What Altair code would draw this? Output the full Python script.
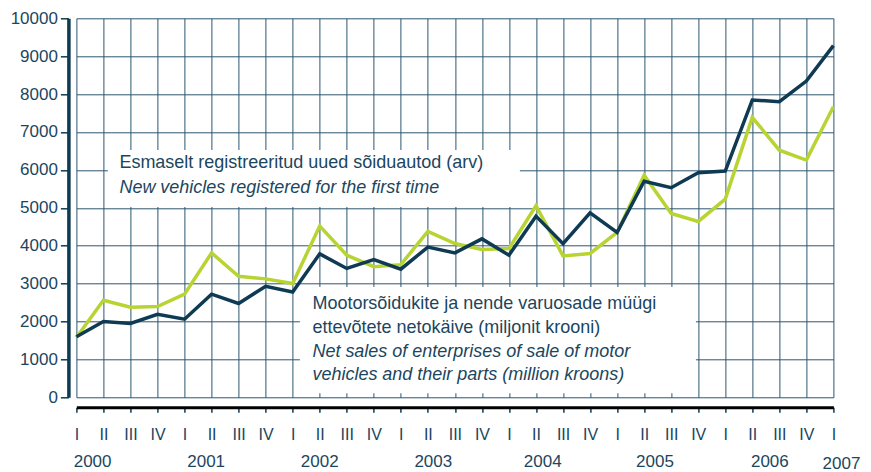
import altair as alt
import pandas as pd

# ---------------- data ----------------
quarters = ["I", "II", "III", "IV"]
years = ["2000", "2001", "2002", "2003", "2004", "2005", "2006"]
year_pos = [0.6, 4.8, 9.0, 13.2, 17.25, 21.4, 25.65]
last_year = ["2007"]
last_year_pos = [28.3]

vehicles = [1600, 2000, 1950, 2190, 2060, 2720, 2475, 2930, 2780, 3785, 3400, 3635,
            3380, 3965, 3810, 4180, 3750, 4780, 4055, 4865, 4350, 5700, 5530, 5925,
            5970, 7845, 7800, 8345, 9280]
sales = [1580, 2560, 2375, 2395, 2720, 3810, 3195, 3125, 3000, 4520, 3750, 3445,
         3500, 4380, 4058, 3900, 3925, 5055, 3730, 3795, 4350, 5860, 4850, 4640,
         5228, 7385, 6520, 6258, 7665]

label1 = ["Esmaselt registreeritud uued sõiduautod (arv)",
          "New vehicles registered for the first time"]
label2 = ["Mootorsõidukite ja nende varuosade müügi",
          "ettevõtete netokäive (miljonit krooni)",
          "Net sales of enterprises of sale of motor",
          "vehicles and their parts (million kroons)"]

n = len(vehicles)
df_v = pd.DataFrame({"idx": list(range(n)), "value": vehicles})
df_s = pd.DataFrame({"idx": list(range(n)), "value": sales})
df_years = pd.DataFrame({"idx": year_pos, "year": years})
df_last = pd.DataFrame({"idx": last_year_pos, "year": last_year})
one = pd.DataFrame({"a": [0]})

# ---------------- style ----------------
NAVY = "#0e3b53"
GREEN = "#b8d432"
TEXT = "#1b4660"
GRID = "#2b5670"
FONT = "Liberation Sans"

roman_js = "[" + ",".join("'" + q + "'" for q in quarters) + "]"

xscale = alt.Scale(domain=[0, n - 1], nice=False, zero=False)
yscale = alt.Scale(domain=[0, 10000], nice=False)

x_axis = alt.Axis(values=list(range(n)), labelExpr=roman_js + "[datum.value % 4]",
                  offset=10, domainColor="black", domainWidth=3, tickSize=5,
                  tickColor=NAVY, tickWidth=1.5, labelPadding=14, labelFontSize=16,
                  labelColor=TEXT, labelFont=FONT, grid=True, gridColor=GRID,
                  gridWidth=1, gridOpacity=1, title=None, labelFlush=False,
                  labelOverlap=False)
y_axis = alt.Axis(values=list(range(0, 10001, 1000)), offset=8, domainColor=NAVY,
                  domainWidth=3.5, tickSize=8, tickWidth=1.5, tickColor=NAVY,
                  labelPadding=3, labelFontSize=17, labelColor=TEXT, labelFont=FONT,
                  grid=True, gridColor=GRID, gridWidth=1, gridOpacity=1,
                  title=None, format="d", labelOverlap=False)

X = alt.X("idx:Q", scale=xscale, axis=x_axis)
Y = alt.Y("value:Q", scale=yscale, axis=y_axis)

# white boxes behind the labels (cover the grid)
box1 = alt.Chart(one).mark_rect(color="white").encode(
    x=alt.value(31.5), x2=alt.value(443.5), y=alt.value(131.7), y2=alt.value(188.7))
box2 = alt.Chart(one).mark_rect(color="white").encode(
    x=alt.value(223.5), x2=alt.value(619.5), y=alt.value(268.7), y2=alt.value(375))

line_s = alt.Chart(df_s).mark_line(color=GREEN, strokeWidth=3.5).encode(x=X, y=Y)
line_v = alt.Chart(df_v).mark_line(color=NAVY, strokeWidth=3.5).encode(x=X, y=Y)

def txt(s, x, y, italic=False):
    return alt.Chart(one).mark_text(
        align="left", baseline="alphabetic", font=FONT, fontSize=18,
        fontStyle="italic" if italic else "normal", color=TEXT).encode(
        x=alt.value(x), y=alt.value(y), text=alt.value(s))

texts = [
    txt(label1[0], 43, 150),
    txt(label1[1], 43, 175, True),
    txt(label2[0], 236, 291),
    txt(label2[1], 236, 314.5),
    txt(label2[2], 236, 338.5, True),
    txt(label2[3], 236, 362, True),
]

year_text = alt.Chart(df_years).mark_text(
    baseline="middle", align="center", font=FONT, fontSize=17, color=TEXT).encode(
    x=X, y=alt.value(444), text="year:N")
last_text = alt.Chart(df_last).mark_text(
    baseline="middle", align="center", font=FONT, fontSize=17, color=TEXT).encode(
    x=X, y=alt.value(445.5), text="year:N")

chart = alt.layer(box1, box2, line_s, line_v, *texts, year_text, last_text).properties(
    width=757, height=379,
    autosize=alt.AutoSizeParams(type="none"),
    padding={"left": 68.4, "top": 10.3, "right": 29, "bottom": 76},
    background="white",
).configure_view(stroke=None)

chart.save("out.html", embed_options={"renderer": "svg", "actions": False})
